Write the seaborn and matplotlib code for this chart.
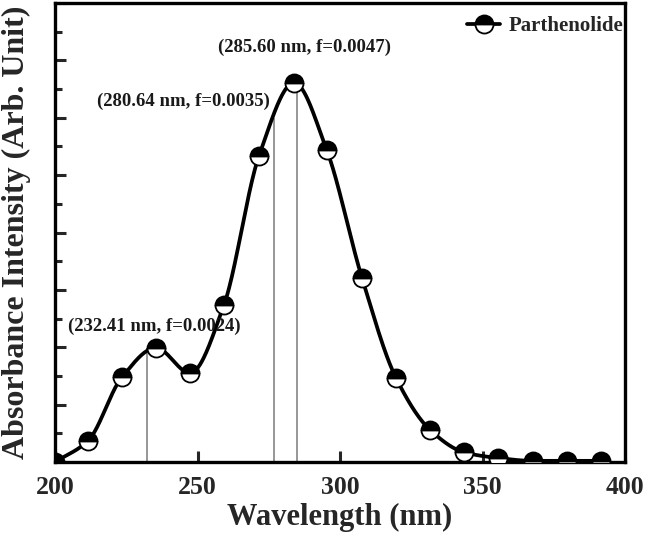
import numpy as np
import pandas as pd
import matplotlib
matplotlib.use("Agg")
import matplotlib.pyplot as plt
from matplotlib.lines import Line2D
from matplotlib.ticker import MultipleLocator, NullFormatter
import seaborn as sns

# ---- data ----
wavelength = [200.0, 211.6, 223.5, 235.4, 247.4, 259.3, 271.6, 283.9, 295.4,
              307.7, 319.6, 331.6, 343.5, 355.4, 367.7, 379.6, 391.6]
absorbance = [0.00, 0.37, 1.48, 1.99, 1.55, 2.74, 5.34, 6.61, 5.43,
              3.21, 1.47, 0.56, 0.17, 0.07, 0.02, 0.02, 0.02]
series_name = "Parthenolide"

stick_x = [232.4, 277.0, 284.8]
stick_h = [1.99, 6.00, 6.50]
stick_labels = ["(232.41 nm, f=0.0024)", "(280.64 nm, f=0.0035)", "(285.60 nm, f=0.0047)"]
label_x = [234.7, 244.9, 287.7]
label_y = [2.36, 6.28, 7.23]

x_ticks = [200, 250, 300, 350, 400]


def pchip(x, y, xn):
    x = np.asarray(x, float); y = np.asarray(y, float)
    h = np.diff(x); d = np.diff(y) / h
    n = len(x)
    m = np.zeros(n)
    for k in range(1, n - 1):
        if d[k - 1] * d[k] <= 0:
            m[k] = 0.0
        else:
            w1 = 2 * h[k] + h[k - 1]
            w2 = h[k] + 2 * h[k - 1]
            m[k] = (w1 + w2) / (w1 / d[k - 1] + w2 / d[k])
    m[0] = d[0]; m[-1] = d[-1]
    idx = np.clip(np.searchsorted(x, xn) - 1, 0, n - 2)
    t = (xn - x[idx]) / h[idx]
    h00 = 2 * t**3 - 3 * t**2 + 1
    h10 = t**3 - 2 * t**2 + t
    h01 = -2 * t**3 + 3 * t**2
    h11 = t**3 - t**2
    return h00 * y[idx] + h10 * h[idx] * m[idx] + h01 * y[idx + 1] + h11 * h[idx] * m[idx + 1]


sns.set_theme(style="ticks")
plt.rcParams["font.family"] = ["Liberation Serif", "DejaVu Serif"]
plt.rcParams["font.weight"] = "bold"

fig = plt.figure(figsize=(6.45, 5.36), dpi=100)
ax = fig.add_axes([55 / 645, (536 - 462) / 536, 570 / 645, 459 / 536])

df_pts = pd.DataFrame({"wl": wavelength, "ab": absorbance})
xs = np.linspace(wavelength[0], wavelength[-1], 600)
df_curve = pd.DataFrame({"wl": xs, "ab": pchip(wavelength, absorbance, xs)})

# oscillator-strength sticks
ax.vlines(stick_x, 0, stick_h, color="#7a7a7a", lw=1.1, zorder=1)

sns.lineplot(data=df_curve, x="wl", y="ab", color="black", lw=2.7, ax=ax,
             zorder=2, estimator=None, sort=False)
sns.lineplot(data=df_pts, x="wl", y="ab", ax=ax, estimator=None, sort=False,
             linestyle="none", marker="o", markersize=13, fillstyle="top",
             markerfacecolor="black", markerfacecoloralt="white",
             markeredgecolor="black", markeredgewidth=1.3, zorder=3)

for s, lx, ly in zip(stick_labels, label_x, label_y):
    ax.text(lx, ly, s, ha="center", va="center", fontsize=13.5,
            fontweight="bold", color="#1a1a1a")

ax.set_xlim(200, 400)
ax.set_ylim(0, 8.0)
ax.set_xticks(x_ticks)
ax.yaxis.set_major_locator(MultipleLocator(1))
ax.yaxis.set_minor_locator(MultipleLocator(0.5))
ax.yaxis.set_major_formatter(NullFormatter())
ax.tick_params(axis="x", which="major", direction="in", length=8, width=2.2,
               labelsize=18.5, pad=10, top=False)
ax.tick_params(axis="y", which="major", direction="in", length=8, width=2.2,
               right=False)
ax.tick_params(axis="y", which="minor", direction="in", length=5, width=2.2,
               right=False)
for lab in ax.get_xticklabels():
    lab.set_fontweight("bold")
for sp in ax.spines.values():
    sp.set_linewidth(2.4)
    sp.set_color("black")
    sp.set_visible(True)

ax.set_xlabel("Wavelength (nm)", fontsize=22, fontweight="bold", labelpad=3)
ax.set_ylabel("Absorbance Intensity (Arb. Unit)", fontsize=23,
              fontweight="bold", labelpad=14)

handle = Line2D([], [], color="black", lw=2.7, marker="o", markersize=13,
                fillstyle="top", markerfacecolor="black",
                markerfacecoloralt="white", markeredgecolor="black",
                markeredgewidth=1.3)
ax.legend([handle], [series_name], loc="upper right", frameon=False,
          prop={"family": "Liberation Serif", "weight": "bold", "size": 15},
          handlelength=1.6, handletextpad=0.4, borderaxespad=0.0,
          bbox_to_anchor=(1.012, 0.99))

fig.savefig("out.png", dpi=100)
